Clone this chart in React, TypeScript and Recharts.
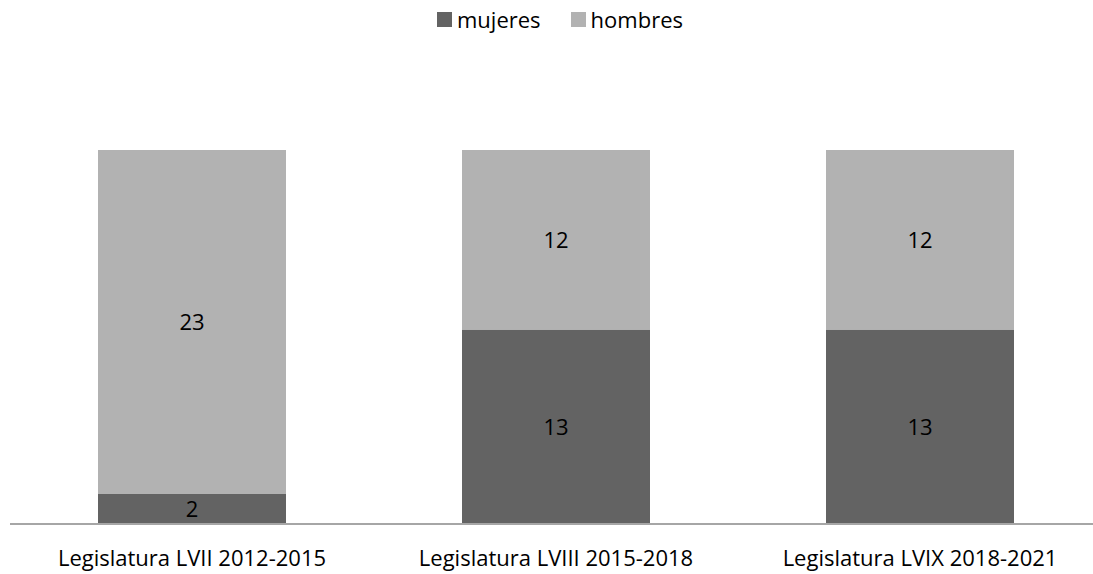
import { BarChart, Bar, XAxis, YAxis, LabelList } from "recharts"

const categories = [
  "Legislatura LVII 2012-2015",
  "Legislatura LVIII 2015-2018",
  "Legislatura LVIX 2018-2021",
]
const mujeres = [2, 13, 13]
const hombres = [23, 12, 12]

const DARK = "#636363"
const LIGHT = "#b2b2b2"
const FONT = "'Open Sans', sans-serif"

const data = categories.map((name, i) => ({
  name,
  mujeres: mujeres[i],
  hombres: hombres[i],
}))

// legend sits above the plot, drawn as plain html
function TopLegend() {
  const items = [
    { label: "mujeres", color: DARK },
    { label: "hombres", color: LIGHT },
  ]
  return (
    <div
      style={{
        position: "absolute",
        top: 4,
        left: 437,
        display: "flex",
        alignItems: "center",
        gap: 30,
        fontFamily: FONT,
        fontSize: 22,
        color: "#000",
      }}
    >
      {items.map((it) => (
        <div key={it.label} style={{ display: "flex", alignItems: "center", gap: 5 }}>
          <div style={{ width: 15, height: 15, backgroundColor: it.color }} />
          <span>{it.label}</span>
        </div>
      ))}
    </div>
  )
}

export default function App() {
  return (
    <div style={{ position: "absolute", left: 0, top: 0, width: 1093, height: 574, overflow: "hidden", background: "#fff" }}>
      <TopLegend />
      <BarChart
        width={1102}
        height={574}
        data={data}
        margin={{ top: 150, right: 0, bottom: 0, left: 10 }}
        barSize={188}
      >
        <XAxis
          dataKey="name"
          height={50}
          tickLine={false}
          axisLine={{ stroke: "#a6a6a6", strokeWidth: 2 }}
          tick={{ fill: "#000", fontSize: 22, fontFamily: FONT, dy: 18 }}
          interval={0}
        />
        <YAxis hide domain={[0, 25]} />
        <Bar dataKey="mujeres" stackId="a" fill={DARK} isAnimationActive={false}>
          <LabelList dataKey="mujeres" position="center" fill="#000" fontSize={22} fontFamily={FONT} />
        </Bar>
        <Bar dataKey="hombres" stackId="a" fill={LIGHT} isAnimationActive={false}>
          <LabelList dataKey="hombres" position="center" fill="#000" fontSize={22} fontFamily={FONT} />
        </Bar>
      </BarChart>
    </div>
  )
}
